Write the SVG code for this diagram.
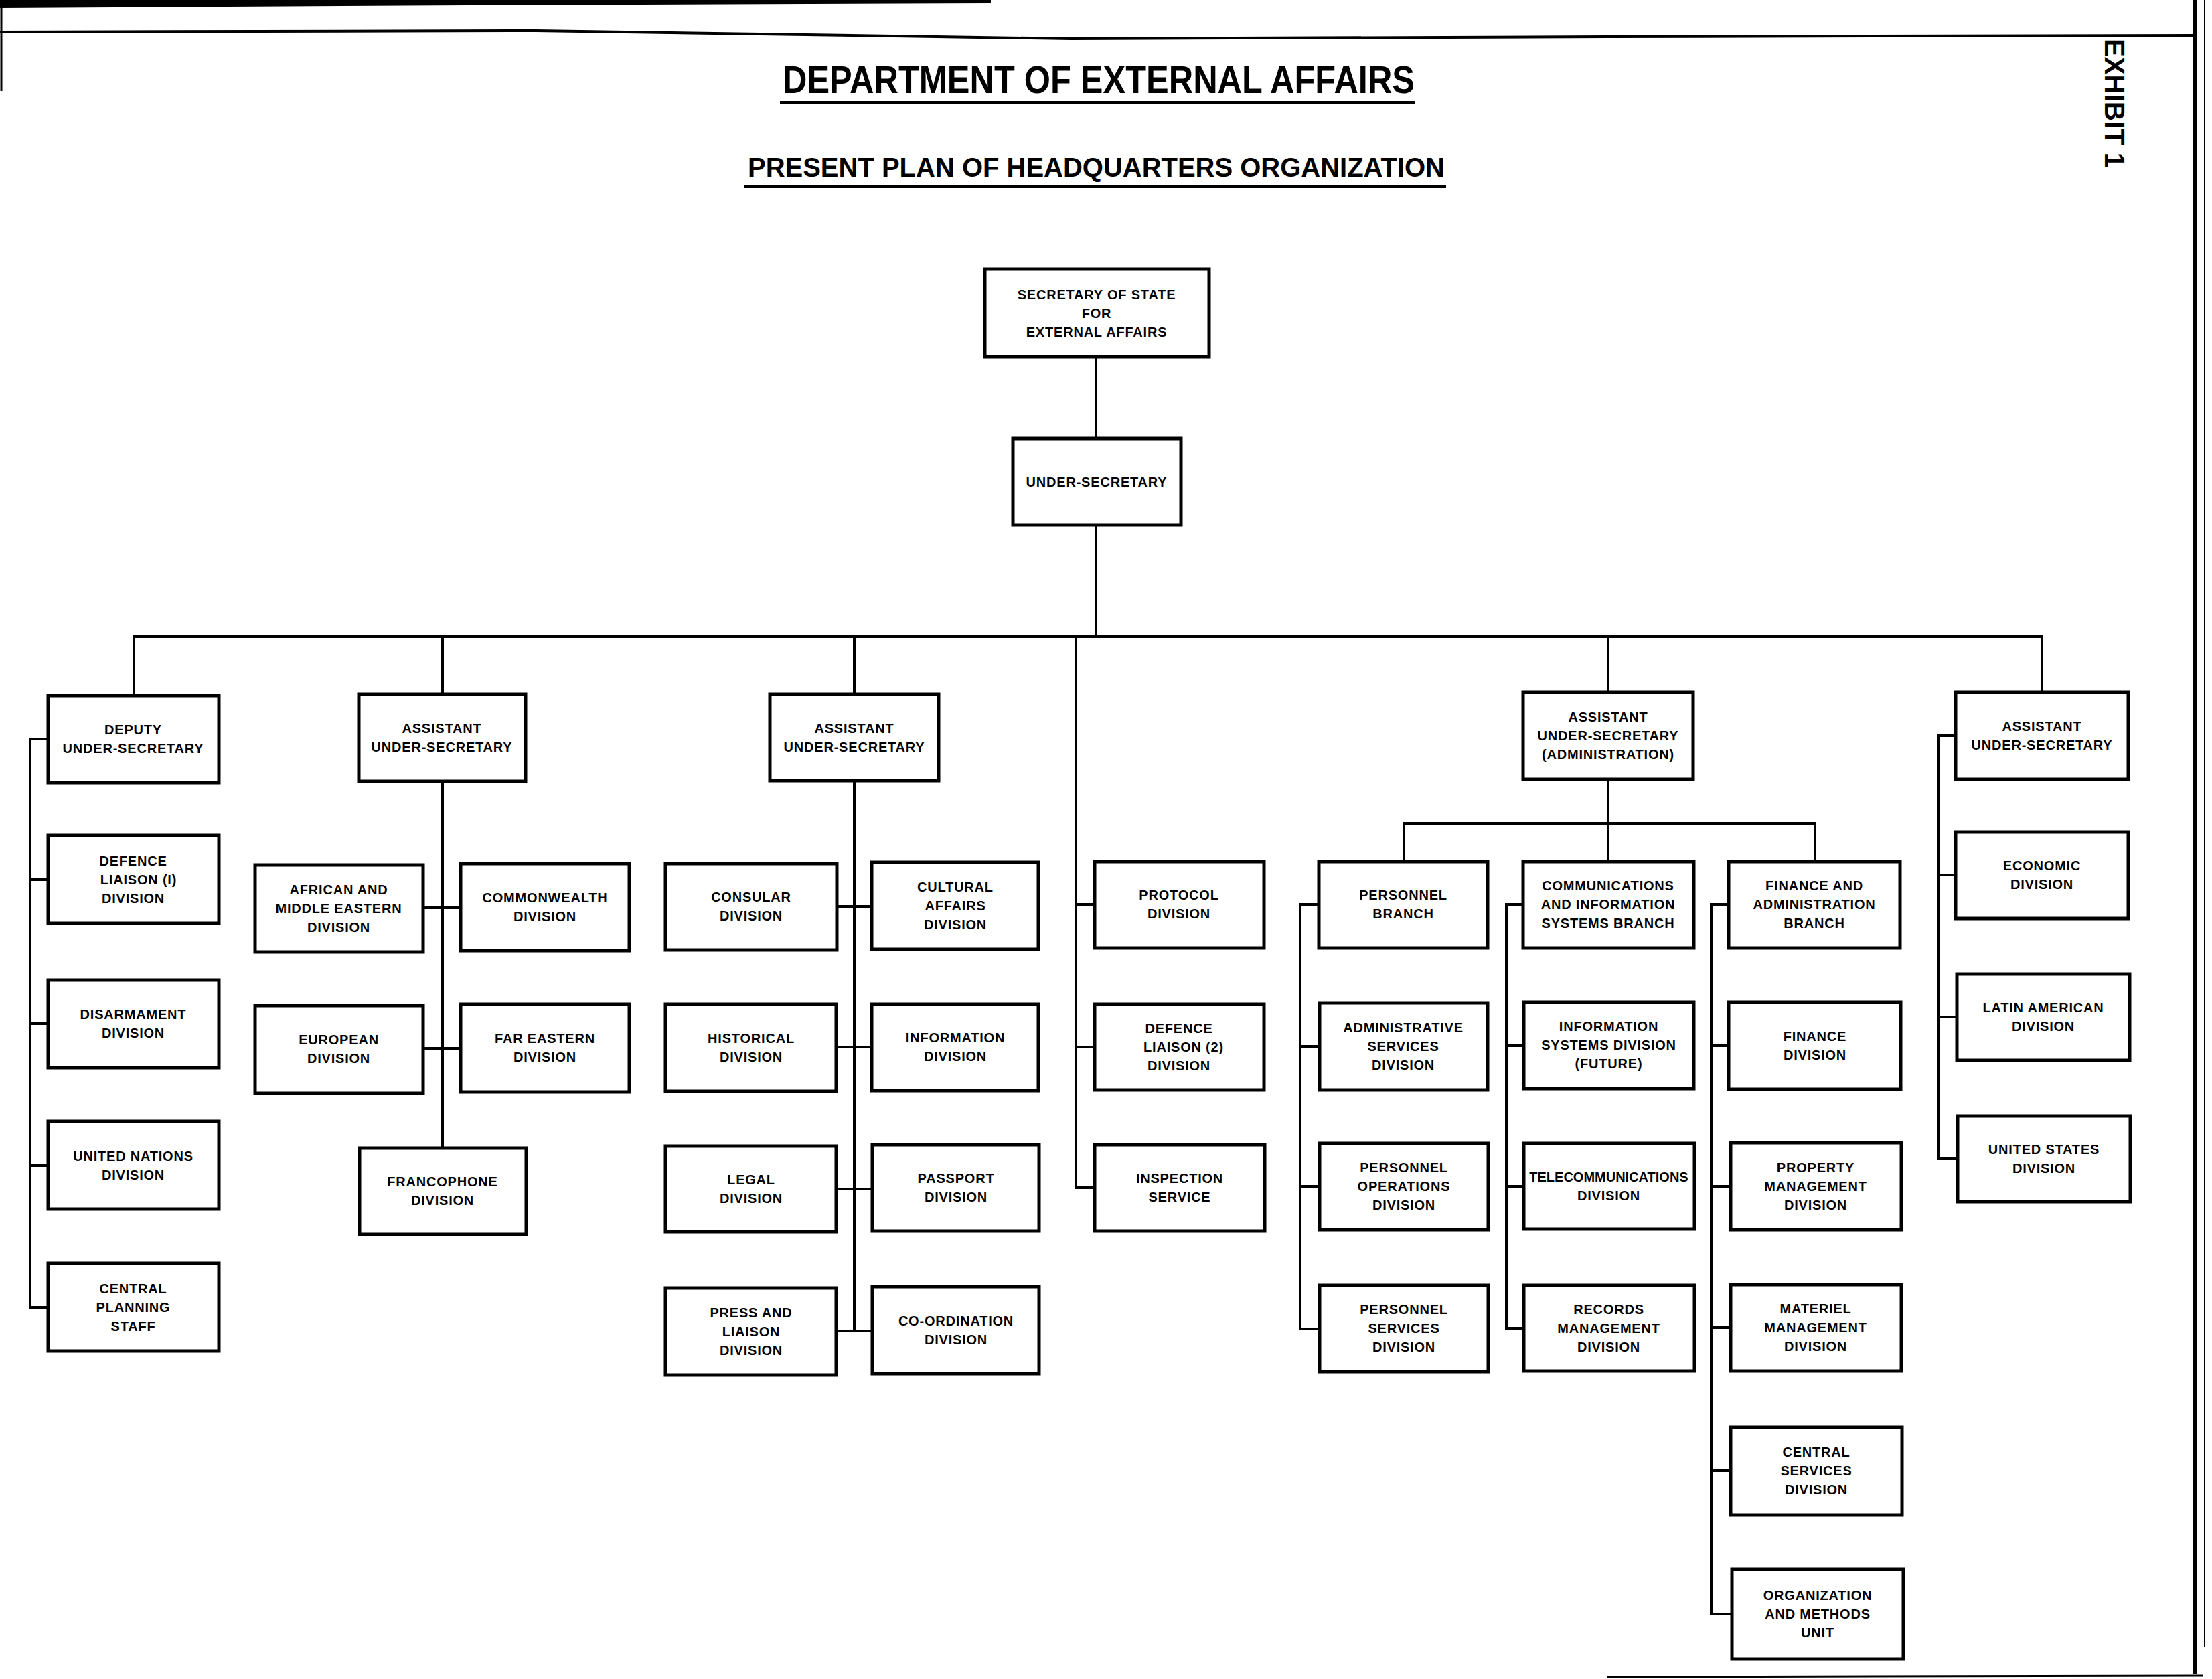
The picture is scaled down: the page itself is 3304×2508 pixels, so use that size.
<svg xmlns="http://www.w3.org/2000/svg" width="3304" height="2508" viewBox="0 0 3304 2508">
<style>
.bx{fill:#fff;stroke:#000;stroke-width:5}
.ln{fill:none;stroke:#000;stroke-width:4}
.t{font-family:"Liberation Sans",Arial,sans-serif;font-weight:bold;font-size:20px;letter-spacing:0.8px;fill:#000;text-anchor:middle}
.h{font-family:"Liberation Sans",Arial,sans-serif;font-weight:bold;fill:#000}
.edge{fill:none;stroke:#000}
</style>
<rect width="3304" height="2508" fill="#fff"/>
<g id="page-edges">
<polygon points="0,0 1480,0 1480,5 700,8 0,12" fill="#000"/>
<polyline class="edge" stroke-width="4" points="0,48 800,46 1600,58 2400,55 3280,53"/>
<line class="edge" stroke-width="6" x1="3279" y1="0" x2="3279" y2="2500"/>
<line class="edge" stroke-width="2" x1="3293" y1="0" x2="3293" y2="2460"/>
<line class="edge" stroke-width="3" x1="2400" y1="2505" x2="3290" y2="2503"/>
<line class="edge" stroke-width="3" x1="2" y1="0" x2="2" y2="136"/>
</g>
<g id="titles">
<text class="h" x="1169" y="139" font-size="58" textLength="944" lengthAdjust="spacingAndGlyphs">DEPARTMENT OF EXTERNAL AFFAIRS</text>
<rect x="1165" y="151" width="948" height="5" fill="#000"/>
<text class="h" x="1117" y="264" font-size="41" textLength="1041" lengthAdjust="spacingAndGlyphs">PRESENT PLAN OF HEADQUARTERS ORGANIZATION</text>
<rect x="1112" y="276" width="1048" height="5" fill="#000"/>
<text class="h" font-size="42" textLength="192" lengthAdjust="spacingAndGlyphs" transform="translate(3144,58) rotate(90)" x="0" y="0">EXHIBIT 1</text>
</g>
<g id="connectors">
<line class="ln" x1="1637" y1="533" x2="1637" y2="655"/>
<line class="ln" x1="1637" y1="784" x2="1637" y2="951"/>
<line class="ln" x1="198" y1="951" x2="3052" y2="951"/>
<line class="ln" x1="200" y1="951" x2="200" y2="1039"/>
<line class="ln" x1="661" y1="951" x2="661" y2="1037"/>
<line class="ln" x1="1276" y1="951" x2="1276" y2="1037"/>
<line class="ln" x1="1607" y1="951" x2="1607" y2="1776"/>
<line class="ln" x1="2402" y1="951" x2="2402" y2="1034"/>
<line class="ln" x1="3050" y1="951" x2="3050" y2="1034"/>
<polyline class="ln" points="72,1104 45,1104 45,1953 72,1953"/>
<line class="ln" x1="45" y1="1314" x2="72" y2="1314"/>
<line class="ln" x1="45" y1="1529" x2="72" y2="1529"/>
<line class="ln" x1="45" y1="1741" x2="72" y2="1741"/>
<line class="ln" x1="661" y1="1167" x2="661" y2="1715"/>
<line class="ln" x1="632" y1="1356" x2="688" y2="1356"/>
<line class="ln" x1="632" y1="1566" x2="688" y2="1566"/>
<line class="ln" x1="1276" y1="1166" x2="1276" y2="1988"/>
<line class="ln" x1="1250" y1="1354" x2="1302" y2="1354"/>
<line class="ln" x1="1250" y1="1564" x2="1302" y2="1564"/>
<line class="ln" x1="1250" y1="1776" x2="1302" y2="1776"/>
<line class="ln" x1="1250" y1="1988" x2="1302" y2="1988"/>
<line class="ln" x1="1607" y1="1351" x2="1635" y2="1351"/>
<line class="ln" x1="1607" y1="1564" x2="1635" y2="1564"/>
<line class="ln" x1="1605" y1="1774" x2="1635" y2="1774"/>
<line class="ln" x1="2402" y1="1164" x2="2402" y2="1287"/>
<polyline class="ln" points="2097,1287 2097,1230 2711,1230 2711,1287"/>
<polyline class="ln" points="1970,1351 1942,1351 1942,1985 1971,1985"/>
<line class="ln" x1="1942" y1="1563" x2="1971" y2="1563"/>
<line class="ln" x1="1942" y1="1772" x2="1971" y2="1772"/>
<polyline class="ln" points="2275,1351 2250,1351 2250,1984 2276,1984"/>
<line class="ln" x1="2250" y1="1562" x2="2276" y2="1562"/>
<line class="ln" x1="2250" y1="1772" x2="2276" y2="1772"/>
<polyline class="ln" points="2582,1351 2556,1351 2556,2411 2587,2411"/>
<line class="ln" x1="2556" y1="1562" x2="2582" y2="1562"/>
<line class="ln" x1="2556" y1="1772" x2="2585" y2="1772"/>
<line class="ln" x1="2556" y1="1983" x2="2585" y2="1983"/>
<line class="ln" x1="2556" y1="2197" x2="2585" y2="2197"/>
<polyline class="ln" points="2921,1099 2895,1099 2895,1731 2924,1731"/>
<line class="ln" x1="2895" y1="1307" x2="2921" y2="1307"/>
<line class="ln" x1="2895" y1="1519" x2="2923" y2="1519"/>
</g>
<g id="n_sec"><rect class="bx" x="1471" y="402" width="335" height="131"/><text class="t" x="1638" y="447">SECRETARY OF STATE</text><text class="t" x="1638" y="475">FOR</text><text class="t" x="1638" y="503">EXTERNAL AFFAIRS</text></g>
<g id="n_us"><rect class="bx" x="1513" y="655" width="251" height="129"/><text class="t" x="1638" y="727">UNDER-SECRETARY</text></g>
<g id="n_dus"><rect class="bx" x="72" y="1039" width="255" height="130"/><text class="t" x="199" y="1097">DEPUTY</text><text class="t" x="199" y="1125">UNDER-SECRETARY</text></g>
<g id="n_dl1"><rect class="bx" x="72" y="1248" width="255" height="131"/><text class="t" x="199" y="1293">DEFENCE</text><text class="t" x="207" y="1321">LIAISON  (I)</text><text class="t" x="199" y="1349">DIVISION</text></g>
<g id="n_dis"><rect class="bx" x="72" y="1464" width="255" height="131"/><text class="t" x="199" y="1522">DISARMAMENT</text><text class="t" x="199" y="1550">DIVISION</text></g>
<g id="n_un"><rect class="bx" x="72" y="1675" width="255" height="131"/><text class="t" x="199" y="1734">UNITED NATIONS</text><text class="t" x="199" y="1762">DIVISION</text></g>
<g id="n_cps"><rect class="bx" x="72" y="1887" width="255" height="131"/><text class="t" x="199" y="1932">CENTRAL</text><text class="t" x="199" y="1960">PLANNING</text><text class="t" x="199" y="1988">STAFF</text></g>
<g id="n_aus1"><rect class="bx" x="536" y="1037" width="249" height="130"/><text class="t" x="660" y="1095">ASSISTANT</text><text class="t" x="660" y="1123">UNDER-SECRETARY</text></g>
<g id="n_afr"><rect class="bx" x="381" y="1292" width="251" height="130"/><text class="t" x="506" y="1336">AFRICAN AND</text><text class="t" x="506" y="1364">MIDDLE EASTERN</text><text class="t" x="506" y="1392">DIVISION</text></g>
<g id="n_com"><rect class="bx" x="688" y="1290" width="252" height="130"/><text class="t" x="814" y="1348">COMMONWEALTH</text><text class="t" x="814" y="1376">DIVISION</text></g>
<g id="n_eur"><rect class="bx" x="381" y="1502" width="251" height="131"/><text class="t" x="506" y="1560">EUROPEAN</text><text class="t" x="506" y="1588">DIVISION</text></g>
<g id="n_far"><rect class="bx" x="688" y="1500" width="252" height="131"/><text class="t" x="814" y="1558">FAR EASTERN</text><text class="t" x="814" y="1586">DIVISION</text></g>
<g id="n_fra"><rect class="bx" x="537" y="1715" width="249" height="129"/><text class="t" x="661" y="1772">FRANCOPHONE</text><text class="t" x="661" y="1800">DIVISION</text></g>
<g id="n_aus2"><rect class="bx" x="1150" y="1037" width="252" height="129"/><text class="t" x="1276" y="1095">ASSISTANT</text><text class="t" x="1276" y="1123">UNDER-SECRETARY</text></g>
<g id="n_con"><rect class="bx" x="994" y="1290" width="256" height="129"/><text class="t" x="1122" y="1347">CONSULAR</text><text class="t" x="1122" y="1375">DIVISION</text></g>
<g id="n_cul"><rect class="bx" x="1302" y="1288" width="249" height="130"/><text class="t" x="1427" y="1332">CULTURAL</text><text class="t" x="1427" y="1360">AFFAIRS</text><text class="t" x="1427" y="1388">DIVISION</text></g>
<g id="n_his"><rect class="bx" x="994" y="1500" width="255" height="130"/><text class="t" x="1122" y="1558">HISTORICAL</text><text class="t" x="1122" y="1586">DIVISION</text></g>
<g id="n_inf"><rect class="bx" x="1302" y="1500" width="249" height="129"/><text class="t" x="1427" y="1557">INFORMATION</text><text class="t" x="1427" y="1585">DIVISION</text></g>
<g id="n_leg"><rect class="bx" x="994" y="1712" width="255" height="128"/><text class="t" x="1122" y="1769">LEGAL</text><text class="t" x="1122" y="1797">DIVISION</text></g>
<g id="n_pas"><rect class="bx" x="1303" y="1710" width="249" height="129"/><text class="t" x="1428" y="1767">PASSPORT</text><text class="t" x="1428" y="1795">DIVISION</text></g>
<g id="n_pre"><rect class="bx" x="994" y="1924" width="255" height="130"/><text class="t" x="1122" y="1968">PRESS AND</text><text class="t" x="1122" y="1996">LIAISON</text><text class="t" x="1122" y="2024">DIVISION</text></g>
<g id="n_coo"><rect class="bx" x="1303" y="1922" width="249" height="130"/><text class="t" x="1428" y="1980">CO-ORDINATION</text><text class="t" x="1428" y="2008">DIVISION</text></g>
<g id="n_pro"><rect class="bx" x="1635" y="1287" width="253" height="129"/><text class="t" x="1761" y="1344">PROTOCOL</text><text class="t" x="1761" y="1372">DIVISION</text></g>
<g id="n_dl2"><rect class="bx" x="1635" y="1500" width="253" height="128"/><text class="t" x="1761" y="1543">DEFENCE</text><text class="t" x="1768" y="1571">LIAISON  (2)</text><text class="t" x="1761" y="1599">DIVISION</text></g>
<g id="n_ins"><rect class="bx" x="1635" y="1710" width="254" height="129"/><text class="t" x="1762" y="1767">INSPECTION</text><text class="t" x="1762" y="1795">SERVICE</text></g>
<g id="n_ausa"><rect class="bx" x="2275" y="1034" width="254" height="130"/><text class="t" x="2402" y="1078">ASSISTANT</text><text class="t" x="2402" y="1106">UNDER-SECRETARY</text><text class="t" x="2402" y="1134">(ADMINISTRATION)</text></g>
<g id="n_perb"><rect class="bx" x="1970" y="1287" width="252" height="129"/><text class="t" x="2096" y="1344">PERSONNEL</text><text class="t" x="2096" y="1372">BRANCH</text></g>
<g id="n_comb"><rect class="bx" x="2275" y="1287" width="255" height="129"/><text class="t" x="2402" y="1330">COMMUNICATIONS</text><text class="t" x="2402" y="1358">AND INFORMATION</text><text class="t" x="2402" y="1386">SYSTEMS BRANCH</text></g>
<g id="n_finb"><rect class="bx" x="2582" y="1287" width="256" height="129"/><text class="t" x="2710" y="1330">FINANCE AND</text><text class="t" x="2710" y="1358">ADMINISTRATION</text><text class="t" x="2710" y="1386">BRANCH</text></g>
<g id="n_adms"><rect class="bx" x="1971" y="1498" width="251" height="130"/><text class="t" x="2096" y="1542">ADMINISTRATIVE</text><text class="t" x="2096" y="1570">SERVICES</text><text class="t" x="2096" y="1598">DIVISION</text></g>
<g id="n_pops"><rect class="bx" x="1971" y="1708" width="252" height="129"/><text class="t" x="2097" y="1751">PERSONNEL</text><text class="t" x="2097" y="1779">OPERATIONS</text><text class="t" x="2097" y="1807">DIVISION</text></g>
<g id="n_psvc"><rect class="bx" x="1971" y="1920" width="252" height="129"/><text class="t" x="2097" y="1963">PERSONNEL</text><text class="t" x="2097" y="1991">SERVICES</text><text class="t" x="2097" y="2019">DIVISION</text></g>
<g id="n_isd"><rect class="bx" x="2276" y="1497" width="254" height="129"/><text class="t" x="2403" y="1540">INFORMATION</text><text class="t" x="2403" y="1568">SYSTEMS DIVISION</text><text class="t" x="2403" y="1596">(FUTURE)</text></g>
<g id="n_tel"><rect class="bx" x="2276" y="1708" width="255" height="128"/><text class="t" x="2403" y="1765" style="letter-spacing:0">TELECOMMUNICATIONS</text><text class="t" x="2403" y="1793">DIVISION</text></g>
<g id="n_rec"><rect class="bx" x="2276" y="1920" width="255" height="128"/><text class="t" x="2403" y="1963">RECORDS</text><text class="t" x="2403" y="1991">MANAGEMENT</text><text class="t" x="2403" y="2019">DIVISION</text></g>
<g id="n_find"><rect class="bx" x="2582" y="1497" width="257" height="130"/><text class="t" x="2711" y="1555">FINANCE</text><text class="t" x="2711" y="1583">DIVISION</text></g>
<g id="n_prop"><rect class="bx" x="2585" y="1707" width="255" height="130"/><text class="t" x="2712" y="1751">PROPERTY</text><text class="t" x="2712" y="1779">MANAGEMENT</text><text class="t" x="2712" y="1807">DIVISION</text></g>
<g id="n_mat"><rect class="bx" x="2585" y="1919" width="255" height="129"/><text class="t" x="2712" y="1962">MATERIEL</text><text class="t" x="2712" y="1990">MANAGEMENT</text><text class="t" x="2712" y="2018">DIVISION</text></g>
<g id="n_cen"><rect class="bx" x="2585" y="2132" width="256" height="131"/><text class="t" x="2713" y="2176">CENTRAL</text><text class="t" x="2713" y="2204">SERVICES</text><text class="t" x="2713" y="2232">DIVISION</text></g>
<g id="n_org"><rect class="bx" x="2587" y="2344" width="256" height="134"/><text class="t" x="2715" y="2390">ORGANIZATION</text><text class="t" x="2715" y="2418">AND METHODS</text><text class="t" x="2715" y="2446">UNIT</text></g>
<g id="n_aus3"><rect class="bx" x="2921" y="1034" width="258" height="130"/><text class="t" x="3050" y="1092">ASSISTANT</text><text class="t" x="3050" y="1120">UNDER-SECRETARY</text></g>
<g id="n_eco"><rect class="bx" x="2921" y="1243" width="258" height="129"/><text class="t" x="3050" y="1300">ECONOMIC</text><text class="t" x="3050" y="1328">DIVISION</text></g>
<g id="n_lat"><rect class="bx" x="2923" y="1455" width="258" height="129"/><text class="t" x="3052" y="1512">LATIN AMERICAN</text><text class="t" x="3052" y="1540">DIVISION</text></g>
<g id="n_usd"><rect class="bx" x="2924" y="1667" width="258" height="128"/><text class="t" x="3053" y="1724">UNITED STATES</text><text class="t" x="3053" y="1752">DIVISION</text></g>
</svg>
